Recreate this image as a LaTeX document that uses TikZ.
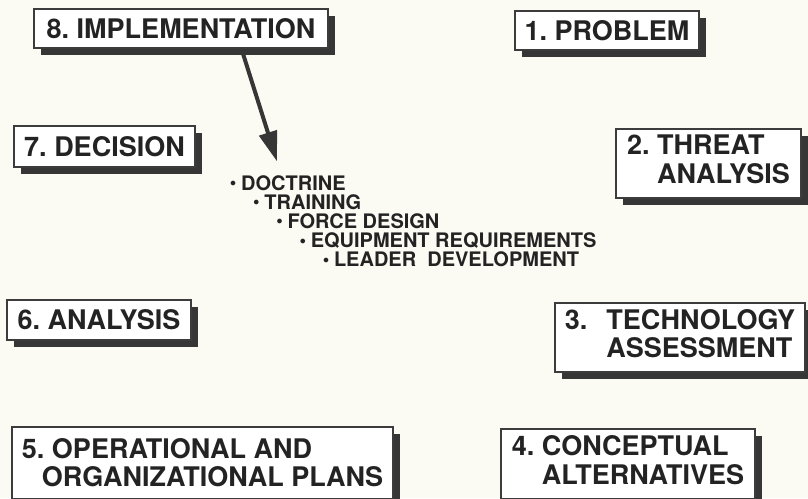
\documentclass[tikz,border=0pt]{standalone}
\usepackage{fontspec}
\setsansfont{TeX Gyre Heros}
\usepackage{xcolor}
\usepackage{tikz}
\usetikzlibrary{arrows.meta,positioning,shadows}

\definecolor{paper}{HTML}{FBFAF3}
\definecolor{ink}{HTML}{232323}
\definecolor{boxline}{HTML}{3C3C3C}
\definecolor{shade}{HTML}{363636}

\frenchspacing
\newcommand{\dutydot}{\raisebox{3.5pt}{\fontsize{13}{13}\selectfont$\bullet$}\hspace{5pt}}
\newcommand{\steplines}[4]{\begin{tabular}{@{}l@{\hspace{#1}}l@{}}#2&#3\\&#4\end{tabular}}

\begin{document}
\begin{tikzpicture}[
		x=1pt, y=-1pt,
		font=\bfseries\sffamily,
		phase/.style={draw=boxline, line width=1.3pt, fill=white, text=ink,
			font=\bfseries\sffamily\fontsize{27}{28}\selectfont,
			inner xsep=0pt, inner ysep=0pt, align=left,
			drop shadow={shadow xshift=6.5pt, shadow yshift=-6.5pt, fill=shade, opacity=1}},
		duty/.style={anchor=base west, inner sep=0pt, text=ink,
			font=\bfseries\sffamily\fontsize{20}{20}\selectfont},
		push/.style={-{Triangle[length=30pt,width=18pt]}, line width=4pt, draw=shade}]
		% Paper
		\clip (0,0) rectangle (808,498);
		\fill[paper] (0,0) rectangle (808,498);
		
		% Draw the eight steps
		\node[phase, minimum width=294pt, minimum height=39pt] (implementation) at (181,28.5) {8. IMPLEMENTATION};
		\node[phase, minimum width=184pt, minimum height=39pt] (problem) at (607,30.5) {1. PROBLEM};
		\node[phase, minimum width=181pt, minimum height=41pt] (decision) at (104.5,146.5) {7. DECISION};
		\node[phase, minimum width=185pt, minimum height=69pt] (threat) at (708.5,163.5) {\steplines{7.5pt}{2.}{THREAT}{ANALYSIS}};
		\node[phase, minimum width=184pt, minimum height=40pt] (analysis) at (99,320) {6. ANALYSIS};
		\node[phase, minimum width=250pt, minimum height=69pt] (technology) at (680,337.5) {\steplines{19pt}{3.}{TECHNOLOGY}{ASSESSMENT}};
		\node[phase, minimum width=254pt, minimum height=70pt] (concepts) at (628,464) {\steplines{7.5pt}{4.}{CONCEPTUAL}{ALTERNATIVES}};
		\node[phase, minimum width=381pt, minimum height=72pt] (plans) at (202.5,463) {5. OPERATIONAL AND\\\hspace*{20pt}ORGANIZATIONAL PLANS};
		
		% Draw the list
		\foreach \task [count=\i from 0] in {DOCTRINE, TRAINING, FORCE DESIGN, EQUIPMENT REQUIREMENTS, LEADER\ \ DEVELOPMENT}
			\node[duty] (duty\i) at ({230+23.2*\i}, {190+19.2*\i}) {\dutydot\task};
		
		% Draw the arrow
		\draw[push] ([xshift=62pt,yshift=-5pt]implementation.south) -- ([xshift=47pt,yshift=13.6pt]duty0.north west);
		
\end{tikzpicture}
\end{document}
